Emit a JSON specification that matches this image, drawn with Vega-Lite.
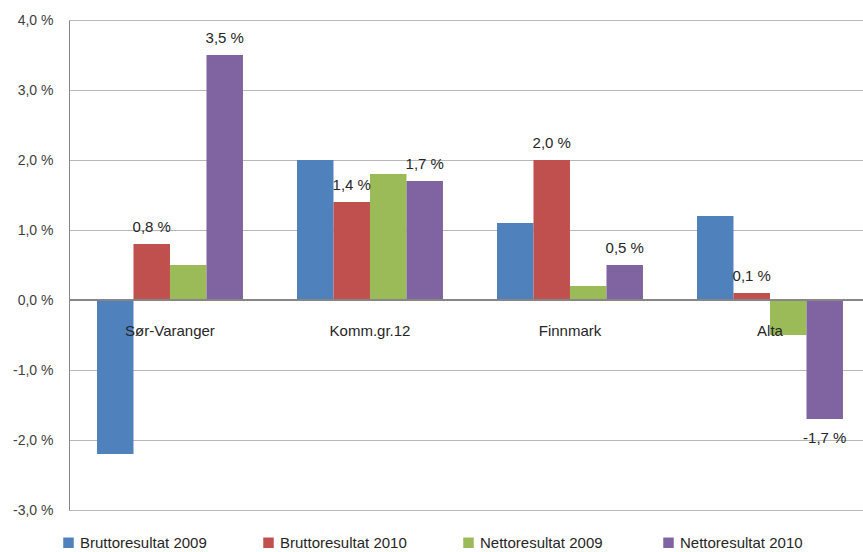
{
  "$schema": "https://vega.github.io/schema/vega-lite/v6.json",
  "autosize": "none",
  "width": 794,
  "height": 490,
  "padding": {"left": 69, "top": 20, "right": 0, "bottom": 42},
  "background": "white",
  "config": {
    "view": {"stroke": null},
    "font": "Liberation Sans"
  },
  "data": {
    "values": [
      {"region": "Sør-Varanger", "series": "Bruttoresultat 2009", "value": -2.2},
      {"region": "Sør-Varanger", "series": "Bruttoresultat 2010", "value": 0.8},
      {"region": "Sør-Varanger", "series": "Nettoresultat 2009", "value": 0.5},
      {"region": "Sør-Varanger", "series": "Nettoresultat 2010", "value": 3.5},
      {"region": "Komm.gr.12", "series": "Bruttoresultat 2009", "value": 2.0},
      {"region": "Komm.gr.12", "series": "Bruttoresultat 2010", "value": 1.4},
      {"region": "Komm.gr.12", "series": "Nettoresultat 2009", "value": 1.8},
      {"region": "Komm.gr.12", "series": "Nettoresultat 2010", "value": 1.7},
      {"region": "Finnmark", "series": "Bruttoresultat 2009", "value": 1.1},
      {"region": "Finnmark", "series": "Bruttoresultat 2010", "value": 2.0},
      {"region": "Finnmark", "series": "Nettoresultat 2009", "value": 0.2},
      {"region": "Finnmark", "series": "Nettoresultat 2010", "value": 0.5},
      {"region": "Alta", "series": "Bruttoresultat 2009", "value": 1.2},
      {"region": "Alta", "series": "Bruttoresultat 2010", "value": 0.1},
      {"region": "Alta", "series": "Nettoresultat 2009", "value": -0.5},
      {"region": "Alta", "series": "Nettoresultat 2010", "value": -1.7}
    ]
  },
  "encoding": {
    "x": {
      "field": "region",
      "type": "nominal",
      "sort": ["Sør-Varanger", "Komm.gr.12", "Finnmark", "Alta"],
      "scale": {"paddingInner": 0.27, "paddingOuter": 0.12, "align": 0.583},
      "axis": null
    }
  },
  "layer": [
    {
      "mark": {"type": "bar"},
      "encoding": {
        "xOffset": {
          "field": "series",
          "type": "nominal",
          "scale": {"domain": ["Bruttoresultat 2009", "Bruttoresultat 2010", "Nettoresultat 2009", "Nettoresultat 2010"], "paddingInner": 0, "paddingOuter": 0}
        },
        "y": {
          "field": "value",
          "type": "quantitative",
          "scale": {"domain": [-3, 4], "nice": false, "zero": false},
          "axis": {
            "title": null,
            "values": [-3, -2, -1, 0, 1, 2, 3, 4],
            "labelExpr": "replace(replace(format(datum.value, '.1f'), '.', ','), '\u2212', '-') + ' %'",
            "labelFontSize": 14,
            "labelColor": "#404040",
            "labelPadding": 16,
            "ticks": false,
            "domainColor": "#868686",
            "gridColor": "#b8b8b8",
            "grid": true
          }
        },
        "color": {
          "field": "series",
          "type": "nominal",
          "scale": {
            "domain": ["Bruttoresultat 2009", "Bruttoresultat 2010", "Nettoresultat 2009", "Nettoresultat 2010"],
            "range": ["#4f81bd", "#c0504d", "#9bbb59", "#8064a2"]
          },
          "legend": {
            "title": null,
            "orient": "none",
            "direction": "horizontal",
            "legendX": -8,
            "legendY": 515,
            "symbolType": "square",
            "symbolSize": 110,
            "symbolStrokeWidth": 0,
            "labelFontSize": 15,
            "labelColor": "#262626",
            "labelOffset": 4,
            "gridAlign": "all",
            "columnPadding": 54,
            "labelLimit": 300
          }
        }
      }
    },
    {
      "mark": {"type": "rule", "color": "#868686"},
      "encoding": {"y": {"datum": 0, "type": "quantitative"}, "x": {"value": 0}, "x2": {"value": 794}}
    },
    {
      "transform": [
        {"filter": "datum.series == 'Nettoresultat 2010'"}
      ],
      "mark": {"type": "text", "dy": 31, "baseline": "middle", "fontSize": 15, "color": "#262626"},
      "encoding": {
        "y": {"datum": 0, "type": "quantitative"},
        "text": {"field": "region", "type": "nominal"}
      }
    },
    {
      "transform": [
        {"filter": "(datum.series == 'Bruttoresultat 2010' || datum.series == 'Nettoresultat 2010') && datum.value >= 0"},
        {"calculate": "replace(format(datum.value, '.1f'), '.', ',') + ' %'", "as": "label"}
      ],
      "mark": {"type": "text", "dy": -17, "baseline": "middle", "fontSize": 15, "color": "#262626"},
      "encoding": {
        "xOffset": {"field": "series", "type": "nominal"},
        "y": {"field": "value", "type": "quantitative"},
        "text": {"field": "label", "type": "nominal"}
      }
    },
    {
      "transform": [
        {"filter": "(datum.series == 'Bruttoresultat 2010' || datum.series == 'Nettoresultat 2010') && datum.value < 0"},
        {"calculate": "'-' + replace(format(abs(datum.value), '.1f'), '.', ',') + ' %'", "as": "label"}
      ],
      "mark": {"type": "text", "dy": 19, "baseline": "middle", "fontSize": 15, "color": "#262626"},
      "encoding": {
        "xOffset": {"field": "series", "type": "nominal"},
        "y": {"field": "value", "type": "quantitative"},
        "text": {"field": "label", "type": "nominal"}
      }
    }
  ]
}
